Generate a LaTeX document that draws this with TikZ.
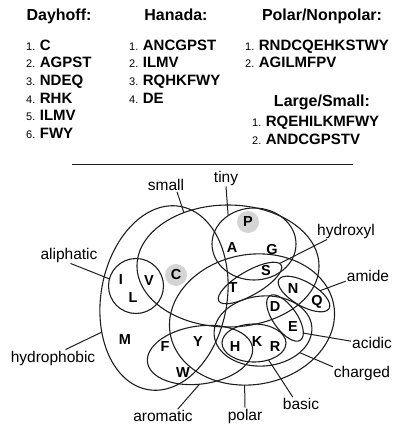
\documentclass[tikz,border=0pt]{standalone}
\usepackage{fontspec}
\setmainfont{Liberation Sans}
\newcommand{\rowtxt}[2]{{\fontsize{11}{13}\selectfont #1.}\hspace{4.5pt}{\fontsize{15}{18}\selectfont\bfseries #2}}
\begin{document}
\begin{tikzpicture}[x=1pt,y=1pt,
 setline/.style={line width=1.1pt, draw=black!88},
 conn/.style={line width=1pt, draw=black!88},
 lab/.style={font=\fontsize{15.5}{18}\selectfont, inner sep=1pt},
 aa/.style={font=\fontsize{14.5}{17}\selectfont\bfseries, inner sep=0pt},
 hdr/.style={font=\fontsize{16}{19}\selectfont\bfseries, anchor=base, inner sep=0pt},
 row/.style={anchor=base west, inner sep=0pt},
 shadecirc/.style={fill=black!17}
]
\useasboundingbox (0,0) rectangle (394,-425);

% ---------- header lists ----------
\node[hdr] (hday) at (59,-21) {Dayhoff:};
\node[hdr] (hhan) at (176,-21) {Hanada:};
\node[hdr] (hpol) at (322,-21) {Polar/Nonpolar:};
\node[hdr] (hls)  at (322,-106.5) {Large/Small:};

\node[row] (d1) at (26,-50.5) {\rowtxt{1}{C}};
\node[row] (d2) at (26,-68)   {\rowtxt{2}{AGPST}};
\node[row] (d3) at (26,-85.5) {\rowtxt{3}{NDEQ}};
\node[row] (d4) at (26,-103)  {\rowtxt{4}{RHK}};
\node[row] (d5) at (26,-120.5){\rowtxt{5}{ILMV}};
\node[row] (d6) at (26,-138)  {\rowtxt{6}{FWY}};

\node[row] (h1) at (129,-50.5) {\rowtxt{1}{ANCGPST}};
\node[row] (h2) at (129,-68)   {\rowtxt{2}{ILMV}};
\node[row] (h3) at (129,-85.5) {\rowtxt{3}{RQHKFWY}};
\node[row] (h4) at (129,-103)  {\rowtxt{4}{DE}};

\node[row] (p1) at (245,-50.5) {\rowtxt{1}{RNDCQEHKSTWY}};
\node[row] (p2) at (245,-68)   {\rowtxt{2}{AGILMFPV}};

\node[row] (l1) at (252,-126.5) {\rowtxt{1}{RQEHILKMFWY}};
\node[row] (l2) at (252,-144)   {\rowtxt{2}{ANDCGPSTV}};

\coordinate (sepL) at (72,-164);
\coordinate (sepR) at (353,-164);
\draw[conn] (sepL) -- (sepR);

% ---------- shaded letters ----------
\fill[shadecirc] (248,-222) circle (11pt);
\fill[shadecirc] (176,-275) circle (11pt);

% ---------- sets ----------
% hydrophobic
\begin{scope}[shift={(164,-298)},rotate=-10]
 \draw[setline] (0,0) ellipse [x radius=63pt, y radius=93pt];
 \coordinate (hyd-p) at (208.5:63pt and 93pt);
\end{scope}
% small
\begin{scope}[shift={(228,-266)}]
 \draw[setline] (0,0) ellipse [x radius=91pt, y radius=61pt];
 \coordinate (small-p) at (119:91pt and 61pt);
\end{scope}
% tiny
\begin{scope}[shift={(254,-244)}]
 \draw[setline] (0,0) ellipse [x radius=42pt, y radius=36pt];
 \coordinate (tiny-p) at (128:42pt and 36pt);
\end{scope}
% aliphatic
\begin{scope}[shift={(136,-286)}]
 \draw[setline] (0,0) circle (27.5pt);
 \coordinate (ali-p) at (165:27.5pt);
\end{scope}
% hydroxyl
\begin{scope}[shift={(250,-283)},rotate=30]
 \draw[setline] (0,0) ellipse [x radius=36pt, y radius=12pt];
 \coordinate (hyx-p) at (10:36pt and 12pt);
\end{scope}
% amide
\begin{scope}[shift={(304,-294)},rotate=-30]
 \draw[setline] (0,0) ellipse [x radius=29pt, y radius=12pt];
 \coordinate (ami-p) at (65:29pt and 12pt);
\end{scope}
% acidic
\begin{scope}[shift={(285,-318)},rotate=-55]
 \draw[setline] (0,0) ellipse [x radius=27pt, y radius=12pt];
 \coordinate (aci-p) at (32:27pt and 12pt);
\end{scope}
% charged
\begin{scope}[shift={(263,-331)},rotate=5]
 \draw[setline] (0,0) ellipse [x radius=49pt, y radius=35pt];
 \coordinate (cha-p) at (-45:49pt and 35pt);
\end{scope}
% basic
\begin{scope}[shift={(254,-343)}]
 \draw[setline] (0,0) ellipse [x radius=32pt, y radius=19pt];
 \coordinate (bas-p) at (-63:32pt and 19pt);
\end{scope}
% aromatic
\begin{scope}[shift={(200,-355)},rotate=8]
 \draw[setline] (0,0) ellipse [x radius=53pt, y radius=29pt];
 \coordinate (aro-p) at (-95:53pt and 29pt);
\end{scope}
% polar
\begin{scope}[shift={(252,-319.5)},rotate=10]
 \draw[setline] (0,0) ellipse [x radius=83pt, y radius=65pt];
 \coordinate (pol-p) at (-103:83pt and 65pt);
\end{scope}

% ---------- amino acid letters ----------
\node[aa] (aP) at (248,-222) {P};
\node[aa] (aA) at (232,-248) {A};
\node[aa] (aG) at (272,-250) {G};
\node[aa] (aS) at (266,-271) {S};
\node[aa] (aT) at (233,-288) {T};
\node[aa] (aN) at (293,-289) {N};
\node[aa] (aQ) at (317,-302) {Q};
\node[aa] (aD) at (275,-307) {D};
\node[aa] (aE) at (293,-327) {E};
\node[aa] (aH) at (235,-347) {H};
\node[aa] (aK) at (257,-342) {K};
\node[aa] (aR) at (275,-347) {R};
\node[aa] (aY) at (198,-342) {Y};
\node[aa] (aF) at (165,-347) {F};
\node[aa] (aW) at (183,-373) {W};
\node[aa] (aM) at (125,-340) {M};
\node[aa] (aI) at (121,-280) {I};
\node[aa] (aV) at (149,-281) {V};
\node[aa] (aL) at (133,-298) {L};
\node[aa] (aC) at (176,-275) {C};

% ---------- set labels ----------
\node[lab] (tsmall) at (166,-185) {small};
\node[lab] (ttiny)  at (226,-178) {tiny};
\node[lab] (thyx)   at (346,-231) {hydroxyl};
\node[lab] (tali)   at (69,-255)  {aliphatic};
\node[lab] (tami)   at (368,-276) {amide};
\node[lab] (thyd)   at (53,-358)  {hydrophobic};
\node[lab] (taci)   at (372,-343) {acidic};
\node[lab] (tcha)   at (362,-373) {charged};
\node[lab] (tbas)   at (301,-404) {basic};
\node[lab] (taro)   at (163,-416) {aromatic};
\node[lab] (tpol)   at (245,-416) {polar};

\draw[conn] (tsmall.-32) -- (small-p);
\draw[conn] (ttiny.south) -- (tiny-p);
\draw[conn] (thyx.-156) -- (hyx-p);
\draw[conn] (tali.-80) -- (ali-p);
\draw[conn] (tami.-167) -- (ami-p);
\draw[conn] (thyd.34) -- (hyd-p);
\draw[conn] (taci.175) -- (aci-p);
\draw[conn] (tcha.168) -- (cha-p);
\draw[conn] (tbas.140) -- (bas-p);
\draw[conn] (taro.25) -- (aro-p);
\draw[conn] (tpol.north) -- (pol-p);
\end{tikzpicture}
\end{document}
